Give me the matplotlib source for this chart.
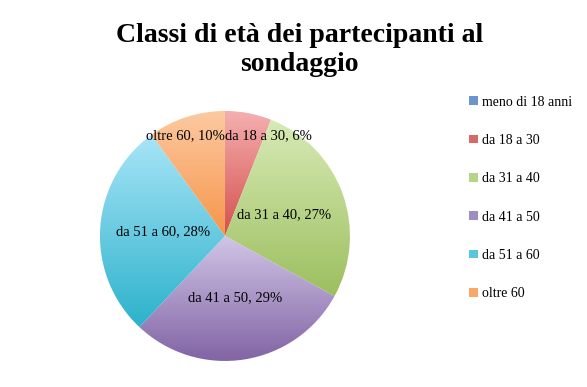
import matplotlib
matplotlib.use("Agg")
import matplotlib.pyplot as plt
import numpy as np
from matplotlib.colors import LinearSegmentedColormap
from matplotlib.patches import Patch

categories = ["meno di 18 anni", "da 18 a 30", "da 31 a 40",
              "da 41 a 50", "da 51 a 60", "oltre 60"]
label_names = ["meno di 18", "da 18 a 30", "da 31 a 40",
               "da 41 a 50", "da 51 a 60", "oltre 60"]
percent = [0, 6, 27, 29, 28, 10]
top_colors = ["#a9c4e6", "#f5b0b0", "#d8eab6", "#d2c6e7", "#a9e5f8", "#fccaa2"]
bottom_colors = ["#4f81bd", "#d3504d", "#9cbf5e", "#8164a4", "#2cb2cb", "#f7954a"]
legend_colors = ["#6a96cc", "#d66a67", "#b5d486", "#9f8cc1", "#5cc5de", "#f9a868"]

SERIF = ["Liberation Serif", "DejaVu Serif"]

fig = plt.figure(figsize=(5.87, 3.87), dpi=100)
ax = fig.add_axes([0.149, 0.035, 0.4685, 0.7106])
ax.axis("off")

wedges, _ = ax.pie(percent, colors=bottom_colors, startangle=90,
                   counterclock=False, radius=1.0,
                   wedgeprops=dict(edgecolor="none"))

# vertical light-to-dark gradient inside each slice
grad = np.linspace(0, 1, 256).reshape(-1, 1)
for w, c0, c1 in zip(wedges, top_colors, bottom_colors):
    if w.theta2 - w.theta1 <= 0:
        continue
    bb = w.get_path().get_extents()
    cmap = LinearSegmentedColormap.from_list("g", [c0, c1])
    im = ax.imshow(grad, cmap=cmap, extent=[bb.x0, bb.x1, bb.y0, bb.y1],
                   origin="upper", aspect="auto", zorder=2)
    im.set_clip_path(w)
    w.set_facecolor("none")
ax.set_xlim(-1.1, 1.1)
ax.set_ylim(-1.1, 1.1)
ax.set_aspect("equal")

# slice labels
for w, name, p in zip(wedges, label_names, percent):
    if p == 0:
        continue
    txt = f"{name}, {p}%"
    mid = np.deg2rad((w.theta1 + w.theta2) / 2)
    if p < 15:
        # small slices: placed next to the 12 o'clock divider
        side = np.sign(np.cos(mid))
        ax.text(0.0, 0.8, txt, ha="left" if side > 0 else "right", va="center",
                fontsize=10.5, family=SERIF, zorder=5)
    else:
        ax.text(0.5 * np.cos(mid), 0.5 * np.sin(mid), txt, ha="center",
                va="center", fontsize=10.5, family=SERIF, zorder=5)

fig.suptitle("Classi di età dei partecipanti al\nsondaggio", x=0.51, y=0.94,
             fontsize=20, fontweight="bold", family=SERIF, linespacing=1.2)

handles = [Patch(facecolor=c, edgecolor="none") for c in legend_colors]
fig.legend(handles, categories, loc="upper left", bbox_to_anchor=(0.778, 0.785),
           frameon=False, handlelength=0.6, handleheight=0.6, handletextpad=0.3,
           labelspacing=1.82, prop=dict(family=SERIF, size=10))

fig.savefig("out.png", dpi=100, facecolor="white")
